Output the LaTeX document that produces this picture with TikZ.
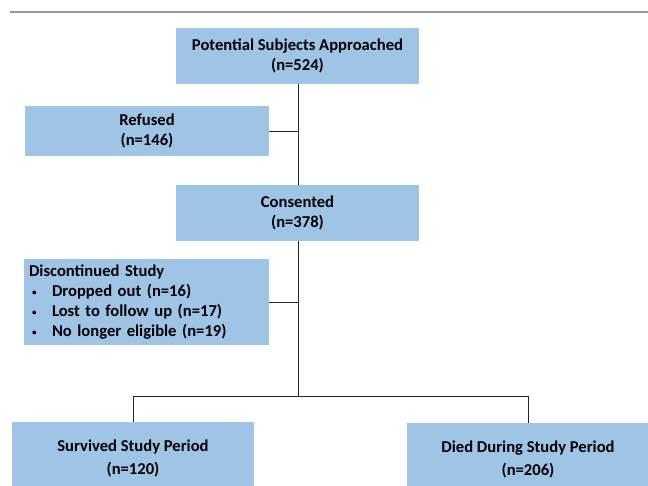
\documentclass[tikz,border=0pt]{standalone}
\usepackage{fontspec}
\setmainfont{Carlito}
\definecolor{boxblue}{RGB}{159,196,230}
\definecolor{linegray}{RGB}{150,150,150}
\newcommand{\smallbul}{\makebox[23pt][l]{\hspace{3pt}\raisebox{1pt}{\fontsize{9}{9}\selectfont\textbullet}}}
\begin{document}
\begin{tikzpicture}[x=1pt,y=-1pt,
  box/.style={fill=boxblue, draw=none, inner sep=0pt, align=center,
    font=\fontsize{16.6}{20.5}\selectfont\bfseries},
  conn/.style={draw=black!85, line width=0.9pt}]
\useasboundingbox (0,0) rectangle (648,485);
\draw[linegray, line width=2pt] (10,12) -- (648,12);
\node[box, minimum width=243pt, minimum height=56pt] (appr) at (297.5,56) {Potential Subjects Approached\\(n=524)};
\node[box, minimum width=244pt, minimum height=50pt] (ref) at (147,131) {Refused\\(n=146)};
\node[box, minimum width=243pt, minimum height=56pt] (cons) at (297.5,213) {Consented\\(n=378)};
\node[box, minimum width=245pt, minimum height=86pt, text width=235pt, inner xsep=5pt, align=left, font=\fontsize{16.6}{20}\selectfont\bfseries] (disc) at (146.5,302)
  {Discontinued Study\\
   \smallbul Dropped out (n=16)\\
   \smallbul Lost to follow up (n=17)\\
   \smallbul No longer eligible (n=19)};
\node[box, minimum width=242pt, minimum height=72pt, font=\fontsize{16.6}{23}\selectfont\bfseries] (surv) at (133,458) {Survived Study Period\\(n=120)};
\node[box, minimum width=242pt, minimum height=72pt, font=\fontsize{16.6}{23}\selectfont\bfseries] (died) at (528,459) {Died During Study Period\\(n=206)};
\coordinate (split) at (298,396);
\draw[conn] (298,84) -- (298,185);
\draw[conn] (ref.east) -- (298,131);
\draw[conn] (298,241) -- (split);
\draw[conn] (disc.east) -- (298,302);
\draw[conn] (split) -| (surv.north);
\draw[conn] (split) -| (died.north);
\end{tikzpicture}
\end{document}
